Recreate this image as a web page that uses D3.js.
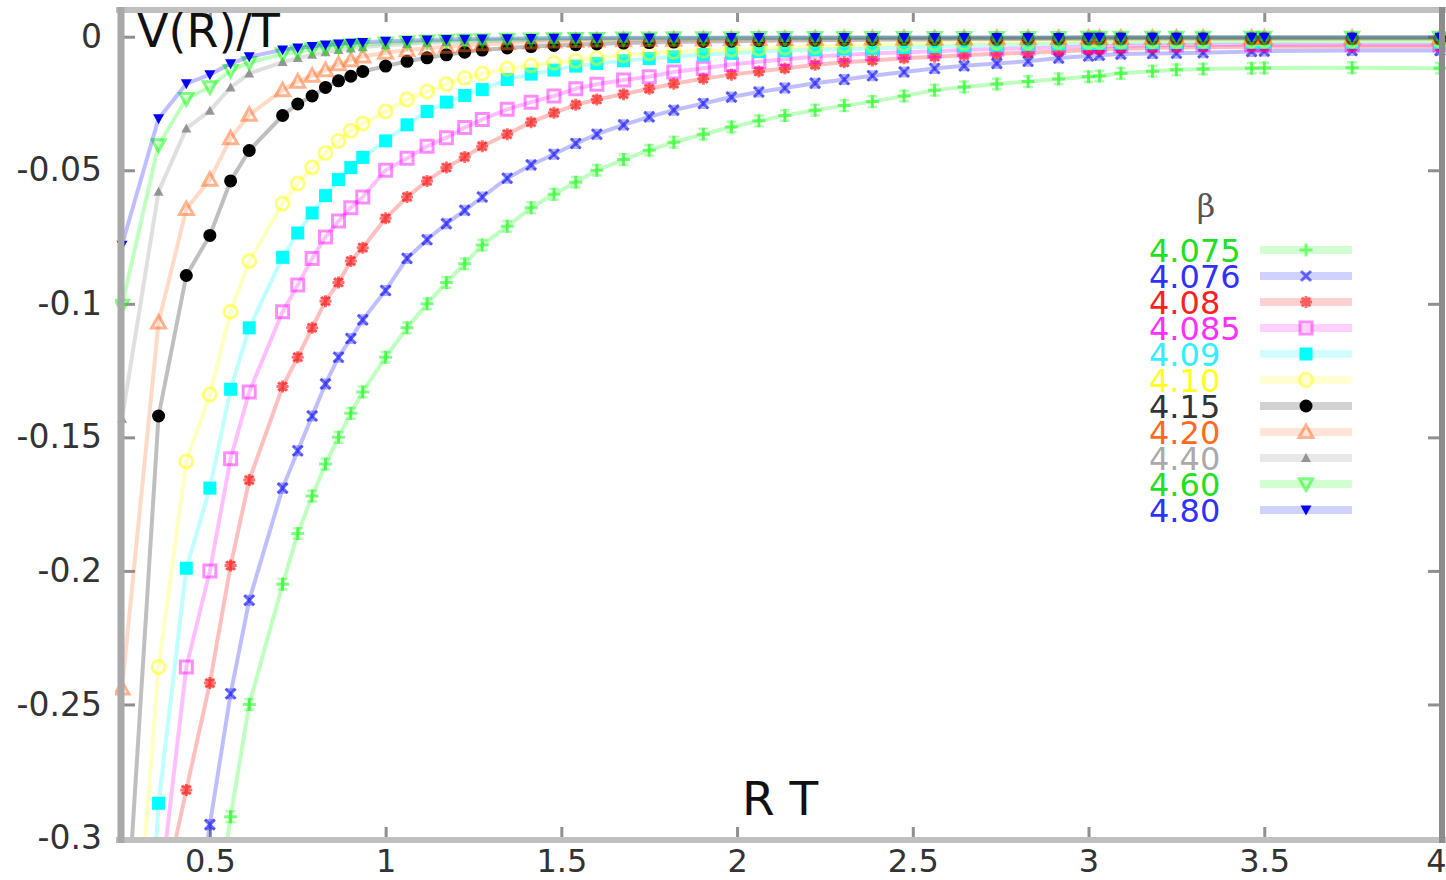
<!DOCTYPE html>
<html><head><meta charset="utf-8">
<script src="https://cdn.jsdelivr.net/npm/d3@7"></script>
<style>html,body{margin:0;padding:0;background:#fff;} svg{display:block;}</style>
</head><body><svg id="chart" width="1446" height="880"></svg>
<script>
// ---------------- data ----------------
const betas = ["4.075","4.076","4.08","4.085","4.09","4.10","4.15","4.20","4.40","4.60","4.80"];
const rt = [0.25,0.354,0.433,0.5,0.559,0.612,0.707,0.75,0.791,0.829,
            0.866,0.901,0.935,1.0,1.061,1.118,1.173,1.225,1.275,1.346,
            1.414,1.479,1.541,1.601,1.677,1.75,1.82,1.904,1.984,2.062,
            2.136,2.222,2.305,2.385,2.475,2.562,2.646,2.739,2.828,2.915,
            3.0,3.031,3.092,3.182,3.25,3.326,3.464,3.5,3.75,4.0];
const v4075 = [-0.75,-0.52,-0.40,-0.345,-0.292,-0.250,-0.205,-0.186,-0.172,-0.160,
               -0.150,-0.141,-0.133,-0.120,-0.109,-0.100,-0.092,-0.085,-0.078,-0.071,
               -0.064,-0.059,-0.0545,-0.050,-0.046,-0.0425,-0.0395,-0.0365,-0.0338,-0.0315,
               -0.0295,-0.0275,-0.0258,-0.0243,-0.0222,-0.0200,-0.0188,-0.0177,-0.0168,-0.0158,
               -0.0150,-0.0147,-0.0137,-0.0129,-0.0124,-0.0121,-0.0118,-0.0117,-0.0116,-0.0118];
const v4076 = [-0.70,-0.45,-0.355,-0.295,-0.246,-0.211,-0.169,-0.155,-0.142,-0.130,
               -0.120,-0.113,-0.106,-0.095,-0.083,-0.076,-0.070,-0.065,-0.060,-0.053,
               -0.048,-0.044,-0.040,-0.0365,-0.0330,-0.0300,-0.0275,-0.0250,-0.0226,-0.0207,
               -0.0192,-0.0174,-0.0160,-0.0146,-0.0132,-0.0119,-0.0109,-0.0100,-0.0092,-0.0080,
               -0.0072,-0.0069,-0.0065,-0.0063,-0.0062,-0.0060,-0.0055,-0.0054,-0.0052,-0.0052];
const v408 = [-0.60,-0.33,-0.282,-0.242,-0.198,-0.166,-0.131,-0.120,-0.109,-0.099,
              -0.092,-0.084,-0.079,-0.068,-0.060,-0.054,-0.049,-0.045,-0.041,-0.0365,
              -0.032,-0.0285,-0.0255,-0.0235,-0.0215,-0.0195,-0.0176,-0.0157,-0.0142,-0.0130,
              -0.0119,-0.0105,-0.0096,-0.0089,-0.0081,-0.0075,-0.0069,-0.0064,-0.0060,-0.0055,
              -0.0050,-0.0048,-0.0045,-0.0042,-0.0040,-0.0039,-0.0038,-0.0038,-0.0037,-0.0037];
const v4085 = [-0.55,-0.325,-0.236,-0.200,-0.158,-0.133,-0.103,-0.093,-0.083,-0.075,
               -0.069,-0.064,-0.060,-0.050,-0.0455,-0.041,-0.0378,-0.034,-0.031,-0.0272,
               -0.0245,-0.0222,-0.0195,-0.0178,-0.0162,-0.0150,-0.0132,-0.0118,-0.0104,-0.0094,
               -0.0084,-0.0075,-0.0068,-0.0063,-0.0058,-0.0054,-0.0050,-0.0046,-0.0043,-0.0040,
               -0.0037,-0.0036,-0.0034,-0.0032,-0.0031,-0.0030,-0.0030,-0.0030,-0.0030,-0.0030];
const v409 = [-0.50,-0.287,-0.199,-0.169,-0.132,-0.109,-0.0826,-0.0735,-0.066,-0.0595,
              -0.0535,-0.049,-0.0452,-0.039,-0.033,-0.028,-0.0245,-0.022,-0.0198,-0.016,
              -0.014,-0.0125,-0.011,-0.010,-0.009,-0.0082,-0.0075,-0.0067,-0.0062,-0.0056,
              -0.0052,-0.0049,-0.0046,-0.0044,-0.0040,-0.0037,-0.0034,-0.0031,-0.0029,-0.0027,
              -0.0025,-0.0025,-0.0024,-0.0023,-0.0022,-0.0022,-0.0021,-0.0021,-0.0021,-0.0021];
const v410 = [-0.41,-0.236,-0.159,-0.134,-0.103,-0.084,-0.0625,-0.055,-0.049,-0.0435,
              -0.039,-0.0352,-0.0325,-0.028,-0.0235,-0.0205,-0.0177,-0.0155,-0.0138,-0.012,
              -0.0108,-0.0098,-0.009,-0.008,-0.007,-0.0062,-0.0057,-0.0053,-0.0049,-0.0045,
              -0.0041,-0.0037,-0.0034,-0.0031,-0.0028,-0.0026,-0.0024,-0.0022,-0.0021,-0.0019,
              -0.0018,-0.0018,-0.0017,-0.0016,-0.0016,-0.0015,-0.0015,-0.0015,-0.0015,-0.0015];
const v415 = [-0.36,-0.142,-0.0894,-0.0744,-0.054,-0.0426,-0.0295,-0.0252,-0.0222,-0.019,
              -0.0165,-0.0148,-0.013,-0.011,-0.0092,-0.0079,-0.0068,-0.0058,-0.005,-0.0042,
              -0.0037,-0.0033,-0.003,-0.0027,-0.0024,-0.0022,-0.002,-0.0018,-0.0017,-0.0015,
              -0.0014,-0.0013,-0.0012,-0.0011,-0.001,-0.001,-0.0009,-0.0009,-0.0008,-0.0008,
              -0.0008,-0.0008,-0.0007,-0.0007,-0.0007,-0.0007,-0.0007,-0.0007,-0.0007,-0.0007];
const v420 = [-0.244,-0.107,-0.0645,-0.0535,-0.038,-0.0292,-0.020,-0.0168,-0.0146,-0.0125,
              -0.0103,-0.0088,-0.0074,-0.006,-0.005,-0.0043,-0.0037,-0.0032,-0.0028,-0.0024,
              -0.0021,-0.0018,-0.0016,-0.0014,-0.0013,-0.0012,-0.0011,-0.001,-0.0009,-0.0008,
              -0.0008,-0.0007,-0.0007,-0.0006,-0.0006,-0.0006,-0.0005,-0.0005,-0.0005,-0.0005,
              -0.0004,-0.0004,-0.0004,-0.0004,-0.0004,-0.0004,-0.0004,-0.0004,-0.0004,-0.0004];
const v440 = [-0.143,-0.058,-0.0344,-0.0277,-0.019,-0.0138,-0.0095,-0.008,-0.0068,-0.0058,
              -0.005,-0.0044,-0.0039,-0.0032,-0.0027,-0.0023,-0.002,-0.0018,-0.0016,-0.0014,
              -0.0012,-0.0011,-0.001,-0.0009,-0.0008,-0.0007,-0.0007,-0.0006,-0.0006,-0.0005,
              -0.0005,-0.0005,-0.0005,-0.0004,-0.0004,-0.0004,-0.0004,-0.0004,-0.0004,-0.0004,
              -0.0003,-0.0003,-0.0003,-0.0003,-0.0003,-0.0003,-0.0003,-0.0003,-0.0003,-0.0003];
const v460 = [-0.1006,-0.0405,-0.0232,-0.0188,-0.0127,-0.0097,-0.0065,-0.0055,-0.0047,-0.0041,
              -0.0036,-0.0032,-0.0029,-0.0024,-0.002,-0.0017,-0.0015,-0.0013,-0.0012,-0.001,
              -0.0009,-0.0008,-0.0007,-0.0007,-0.0006,-0.0006,-0.0005,-0.0005,-0.0005,-0.0004,
              -0.0004,-0.0004,-0.0004,-0.0004,-0.0004,-0.0004,-0.0004,-0.0004,-0.0004,-0.0004,
              -0.0003,-0.0003,-0.0003,-0.0003,-0.0003,-0.0003,-0.0003,-0.0003,-0.0003,-0.0003];
const v480 = [-0.078,-0.0307,-0.0176,-0.0142,-0.0101,-0.0075,-0.0049,-0.0042,-0.0036,-0.0031,
              -0.0027,-0.0024,-0.0021,-0.0017,-0.0014,-0.0012,-0.001,-0.0009,-0.0008,-0.0007,
              -0.0006,-0.0005,-0.0005,-0.0005,-0.0004,-0.0004,-0.0004,-0.0004,-0.0003,-0.0003,
              -0.0003,-0.0003,-0.0003,-0.0003,-0.0003,-0.0003,-0.0003,-0.0003,-0.0003,-0.0003,
              -0.0002,-0.0002,-0.0002,-0.0002,-0.0002,-0.0002,-0.0002,-0.0002,-0.0002,-0.0002];
const errHalf = [0.0020,0.0016,0.0012,0,0,0,0,0,0,0,0];
const xTickValues = [0.5,1,1.5,2,2.5,3,3.5,4];
const xTickLabels = ["0.5","1","1.5","2","2.5","3","3.5","4"];
const yTickValues = [0,-0.05,-0.1,-0.15,-0.2,-0.25,-0.3];
const yTickLabels = ["0","-0.05","-0.1","-0.15","-0.2","-0.25","-0.3"];
const xLabel = "R T", yLabel = "V(R)/T", legendTitle = "β";

const seriesValues = [v4075,v4076,v408,v4085,v409,v410,v415,v420,v440,v460,v480];

// ---------------- styles ----------------
const colors = ["#00ff00","#0000ff","#ff0000","#ff00ff","#00ffff","#ffff00","#000000","#ff6a20","#808080","#00ff00","#0000ff"];
const textColors = ["#20e020","#3030ff","#ff2020","#ff30ff","#30f0ff","#ffff20","#333333","#ff6a20","#aaaaaa","#20e020","#3030ff"];
const markStyle = [
  {shape:"plus",   fill:false, s:6.5, sw:3, op:0.5},
  {shape:"times",  fill:false, s:5,   sw:3, op:0.55},
  {shape:"star",   fill:false, s:6,   sw:3, op:0.55},
  {shape:"square", fill:false, s:6,   sw:3, op:0.45},
  {shape:"square", fill:true,  s:6.5, sw:0, op:1},
  {shape:"circle", fill:false, s:6.5, sw:3, op:0.5},
  {shape:"circle", fill:true,  s:6.5, sw:0, op:1},
  {shape:"triUp",  fill:false, s:7,   sw:3, op:0.5},
  {shape:"triUp",  fill:true,  s:5,   sw:0, op:0.8},
  {shape:"triDown",fill:false, s:6.5, sw:3, op:0.5},
  {shape:"triDown",fill:true,  s:5.5, sw:0, op:1}
];
function symPath(type, s){
  switch(type){
    case "plus": return `M${-s},0H${s}M0,${-s}V${s}`;
    case "times": return `M${-s},${-s}L${s},${s}M${-s},${s}L${s},${-s}`;
    case "star": { const t=s*0.72; return `M${-s},0H${s}M0,${-s}V${s}M${-t},${-t}L${t},${t}M${-t},${t}L${t},${-t}`; }
    case "square": return `M${-s},${-s}H${s}V${s}H${-s}Z`;
    case "circle": return `M${s},0A${s},${s} 0 1,1 ${-s},0A${s},${s} 0 1,1 ${s},0Z`;
    case "triUp": return `M0,${-s}L${s},${s*0.8}L${-s},${s*0.8}Z`;
    case "triDown": return `M0,${s}L${s},${-s*0.8}L${-s},${-s*0.8}Z`;
  }
}

const FONT = "'DejaVu Sans', 'Liberation Sans', sans-serif";
const svg = d3.select("#chart");
const x = d3.scaleLinear().domain([0.25,4]).range([122,1440]);
const y = d3.scaleLinear().domain([-0.3,0.01]).range([838,10]);

svg.append("rect").attr("width",1446).attr("height",880).attr("fill","#fff");

svg.append("defs").append("clipPath").attr("id","clip")
  .append("rect").attr("x",115).attr("y",8).attr("width",1331).attr("height",832);

// axes (ticks inward, mirrored)
function styleAxis(g, fs){
  g.select(".domain").remove();
  g.selectAll(".tick line").attr("stroke","#909090").attr("stroke-width",3);
  g.selectAll(".tick text").attr("fill","#333").style("font-family",FONT).style("font-size",fs||"33px");
}
svg.append("g").attr("transform","translate(122,0)")
  .call(d3.axisLeft(y).tickValues(yTickValues).tickFormat((d,i)=>yTickLabels[i]).tickSize(-13).tickPadding(20))
  .call(g=>styleAxis(g,"33px"));
svg.append("g").attr("transform","translate(1441,0)")
  .call(d3.axisRight(y).tickValues(yTickValues).tickFormat("").tickSize(-13))
  .call(g=>styleAxis(g));
const xg = svg.append("g").attr("transform","translate(0,839)")
  .call(d3.axisBottom(x).tickValues(xTickValues).tickFormat((d,i)=>xTickLabels[i]).tickSize(-12).tickPadding(10))
  .call(g=>styleAxis(g,"32px"));
// last label kept inside the picture
xg.selectAll(".tick text").filter((d,i)=>i===xTickValues.length-1)
  .attr("text-anchor","end").attr("x",6);
svg.append("g").attr("transform","translate(0,10)")
  .call(d3.axisTop(x).tickValues(xTickValues).tickFormat("").tickSize(-12))
  .call(g=>styleAxis(g));

// data layer
const plot = svg.append("g").attr("clip-path","url(#clip)");
const line = d3.line().x(d=>x(d[0])).y(d=>y(d[1]));
seriesValues.forEach((vals,i)=>{
  const pts = rt.map((r,j)=>[r,vals[j]]);
  const g = plot.append("g");
  g.append("path").attr("d",line(pts)).attr("fill","none")
    .attr("stroke",colors[i]).attr("stroke-opacity",0.25).attr("stroke-width",4);
  if(errHalf[i]>0){
    const e = errHalf[i];
    pts.forEach(p=>{
      const px=x(p[0]), y1=y(p[1]-e), y2=y(p[1]+e);
      g.append("path").attr("d",`M${px},${y1}V${y2}M${px-5},${y1}H${px+5}M${px-5},${y2}H${px+5}`)
        .attr("stroke",colors[i]).attr("stroke-opacity",0.3).attr("stroke-width",2.5).attr("fill","none");
    });
  }
  const st = markStyle[i];
  g.selectAll("path.m").data(pts).enter().append("path").attr("class","m")
    .attr("transform",d=>`translate(${x(d[0])},${y(d[1])})`)
    .attr("d",symPath(st.shape,st.s))
    .attr("fill",st.fill?colors[i]:"none")
    .attr("stroke",st.fill?"none":colors[i])
    .attr("stroke-width",st.sw)
    .attr("opacity",st.op);
});

// frame
svg.append("line").attr("x1",116).attr("x2",1446).attr("y1",10).attr("y2",10).attr("stroke","#c0c0c0").attr("stroke-width",6);
svg.append("line").attr("x1",116).attr("x2",1446).attr("y1",840).attr("y2",840).attr("stroke","#c0c0c0").attr("stroke-width",6);
svg.append("line").attr("x1",121).attr("x2",121).attr("y1",7).attr("y2",843).attr("stroke","#a8a8a8").attr("stroke-width",7);
svg.append("line").attr("x1",1442).attr("x2",1442).attr("y1",7).attr("y2",843).attr("stroke","#8c8c8c").attr("stroke-width",6);

// axis labels
svg.append("text").attr("x",137).attr("y",47).text(yLabel)
  .style("font-family",FONT).style("font-size","46px").attr("fill","#111");
svg.append("text").attr("x",742).attr("y",815).text(xLabel)
  .style("font-family",FONT).style("font-size","47px").attr("fill","#111");

// legend
const lg = svg.append("g");
lg.append("text").attr("x",1206).attr("y",217).attr("text-anchor","middle").text(legendTitle)
  .style("font-family","'DejaVu Serif', serif").style("font-size","32px").attr("fill","#555");
betas.forEach((b,i)=>{
  const cy = 250 + i*26;
  lg.append("text").attr("x",1149).attr("y",cy).attr("dy","0.36em").text(b)
    .style("font-family",FONT).style("font-size","32px").attr("fill",textColors[i]);
  lg.append("line").attr("x1",1260).attr("x2",1352).attr("y1",cy).attr("y2",cy)
    .attr("stroke",colors[i]).attr("stroke-opacity",0.18).attr("stroke-width",8);
  const st = markStyle[i];
  lg.append("path").attr("transform",`translate(1306,${cy})`).attr("d",symPath(st.shape,st.s))
    .attr("fill",st.fill?colors[i]:"none").attr("stroke",st.fill?"none":colors[i])
    .attr("stroke-width",st.sw).attr("opacity",st.op);
});
</script></body></html>
